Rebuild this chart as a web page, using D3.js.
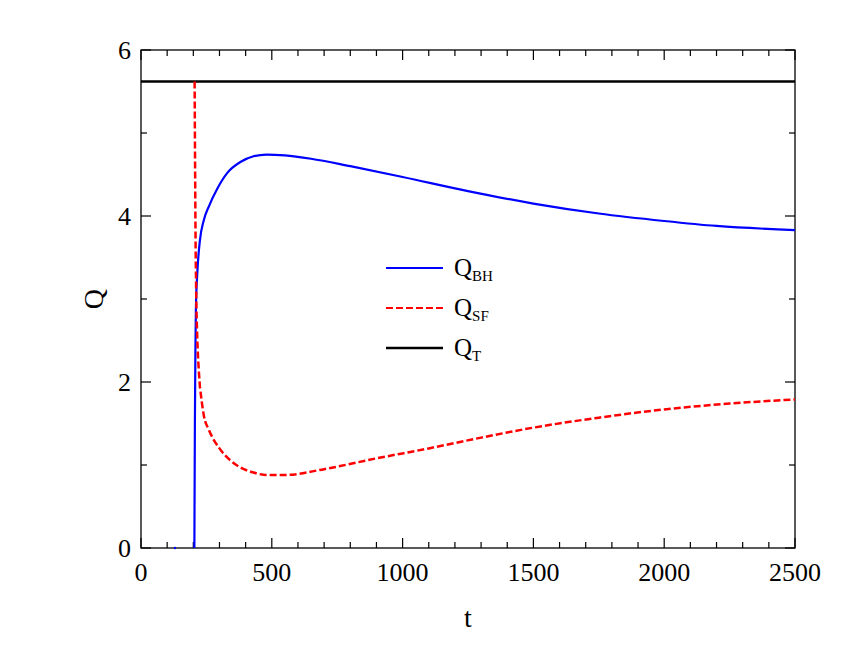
<!DOCTYPE html><html><head><script src="https://cdn.jsdelivr.net/npm/d3@7"></script>
<style>body{margin:0;background:#fff}text{font-family:"Liberation Serif","Times New Roman",serif}</style></head><body>
<svg id="c" width="855" height="661"></svg>
<script>
const bhT=[204,206,208,210,215,225,240,260,290,330,380,430,480,550,650,800,1000,1250,1500,1750,2000,2200,2500];
const bhQ=[0,1.5,2.4,2.9,3.3,3.7,3.95,4.12,4.32,4.52,4.65,4.72,4.74,4.73,4.69,4.6,4.47,4.3,4.15,4.03,3.94,3.88,3.83];
const sfT=[205,207,210,213,218,225,240,260,300,340,380,430,480,550,700,900,1100,1300,1500,1750,2000,2250,2500];
const sfQ=[5.62,4.5,3.3,2.75,2.3,1.95,1.6,1.42,1.2,1.06,0.97,0.91,0.88,0.88,0.95,1.08,1.2,1.33,1.45,1.57,1.67,1.74,1.79];
const qT=5.62;
const xTicks=[0,500,1000,1500,2000,2500], yTicks=[0,2,4,6];
const svg=d3.select("#c");
const L=141,R=795,T=50,B=548;
const x=d3.scaleLinear().domain([0,2500]).range([L,R]);
const y=d3.scaleLinear().domain([0,6]).range([B,T]);
const g=svg.append("g");
g.append("rect").attr("x",L).attr("y",T).attr("width",R-L).attr("height",B-T).attr("fill","none").attr("stroke","#000").attr("stroke-width",1.3);
const tk=(x1,y1,x2,y2)=>g.append("line").attr("x1",x1).attr("y1",y1).attr("x2",x2).attr("y2",y2).attr("stroke","#000").attr("stroke-width",1.2);
d3.range(0,2501,100).forEach(v=>{const l=v%500===0?10:6;tk(x(v),B,x(v),B-l);tk(x(v),T,x(v),T+l);});
d3.range(0,6.01,1).forEach(v=>{const l=v%2===0?10:6;tk(L,y(v),L+l,y(v));tk(R,y(v),R-l,y(v));});
xTicks.forEach(v=>g.append("text").attr("x",x(v)).attr("y",B+33).attr("text-anchor","middle").attr("font-size",26).text(v));
yTicks.forEach(v=>g.append("text").attr("x",L-10).attr("y",y(v)+9).attr("text-anchor","end").attr("font-size",26).text(v));
g.append("text").attr("x",468).attr("y",627).attr("text-anchor","middle").attr("font-size",28).text("t");
g.append("text").attr("x",95).attr("y",y(3)).attr("text-anchor","middle").attr("font-size",28).attr("transform",`rotate(-90,95,${y(3)})`).attr("dy",8).text("Q");
const line=d3.line().x(d=>x(d[0])).y(d=>y(d[1])).curve(d3.curveMonotoneX);
svg.append("clipPath").attr("id","cp").append("rect").attr("x",L).attr("y",T).attr("width",R-L).attr("height",B-T);
g.append("line").attr("x1",x(0)).attr("x2",x(2500)).attr("y1",y(qT)).attr("y2",y(qT)).attr("stroke","#000").attr("stroke-width",2.5);
g.append("circle").attr("cx",x(130)).attr("cy",y(0)).attr("r",1.2).attr("fill","#0000ff");
g.append("path").attr("d",line(bhT.map((t,i)=>[t,bhQ[i]]))).attr("fill","none").attr("stroke","#0000ff").attr("stroke-width",2.2).attr("clip-path","url(#cp)");
g.append("path").attr("d",d3.line().x(d=>x(d[0])).y(d=>y(d[1])).curve(d3.curveMonotoneY)(sfT.slice(0,6).map((t,i)=>[t,sfQ[i]]))+line(sfT.slice(5).map((t,i)=>[t,sfQ[i+5]])).replace(/^M/,"L")).attr("fill","none").attr("stroke","#ff0000").attr("stroke-width",2.5).attr("stroke-dasharray","7,3").attr("clip-path","url(#cp)");
const leg=[["BH","#0000ff",null,268],["SF","#ff0000","7,3",308],["T","#000",null,348]];
leg.forEach(([s,c,d,yy])=>{g.append("line").attr("x1",386).attr("x2",443).attr("y1",yy).attr("y2",yy).attr("stroke",c).attr("stroke-width",c=="#000"?2.5:2.2).attr("stroke-dasharray",d);
const t=g.append("text").attr("x",454).attr("y",yy+8).attr("font-size",25);t.append("tspan").text("Q");t.append("tspan").attr("font-size",15).attr("dy",5).text(s);});
</script></body></html>
